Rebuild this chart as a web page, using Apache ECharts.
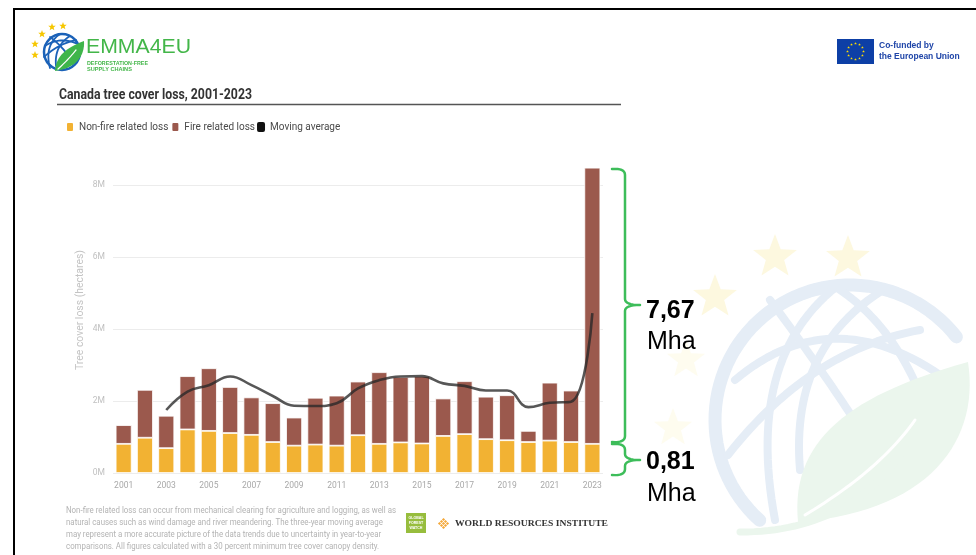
<!DOCTYPE html>
<html>
<head>
<meta charset="utf-8">
<script src="https://cdn.jsdelivr.net/npm/echarts@6/dist/echarts.min.js"></script>
<style>
  html, body { margin: 0; padding: 0; background: #ffffff; }
  #chart { width: 976px; height: 555px; }
</style>
</head>
<body>
<div id="chart"></div>
<script>
// Canada tree cover loss, 2001-2023 (million hectares)
var years = ['2001','2002','2003','2004','2005','2006','2007','2008','2009','2010','2011','2012',
             '2013','2014','2015','2016','2017','2018','2019','2020','2021','2022','2023'];
var nonFireLoss = [0.81,0.98,0.69,1.21,1.17,1.11,1.06,0.86,0.76,0.79,0.76,1.05,
                   0.81,0.85,0.82,1.03,1.08,0.94,0.91,0.86,0.90,0.86,0.81];
var fireLoss = [0.52,1.33,0.90,1.48,1.74,1.28,1.04,1.08,0.78,1.30,1.39,1.49,
                1.99,1.82,1.87,1.04,1.47,1.18,1.25,0.31,1.61,1.43,7.67];
var movingAverage = [null,null,1.75,2.26,2.44,2.68,2.44,2.14,1.87,1.86,1.94,2.35,
                     2.58,2.68,2.69,2.49,2.42,2.29,2.29,1.83,1.95,1.98,4.44];
var yTicks = [0, 2, 4, 6, 8];

var FONT = 'Roboto, "Noto Sans", sans-serif';
var ARIAL = '"Liberation Sans", Arial, sans-serif';

// ---------- small drawing helpers for the decorative artwork ----------
var measureCtx = document.createElement('canvas').getContext('2d');
function textWidth(text, size, weight, family) {
  measureCtx.font = (weight || 'normal') + ' ' + size + 'px ' + family;
  return measureCtx.measureText(text).width;
}
function quad(p0, p1, p2, n) {
  var out = [];
  for (var i = 0; i <= n; i++) {
    var t = i / n, u = 1 - t;
    out.push([u * u * p0[0] + 2 * u * t * p1[0] + t * t * p2[0],
              u * u * p0[1] + 2 * u * t * p1[1] + t * t * p2[1]]);
  }
  return out;
}
function cubic(p0, p1, p2, p3, n) {
  var out = [];
  for (var i = 0; i <= n; i++) {
    var t = i / n, u = 1 - t;
    out.push([u*u*u*p0[0] + 3*u*u*t*p1[0] + 3*u*t*t*p2[0] + t*t*t*p3[0],
              u*u*u*p0[1] + 3*u*u*t*p1[1] + 3*u*t*t*p2[1] + t*t*t*p3[1]]);
  }
  return out;
}
function arcPts(cx, cy, r, a0, a1, n) {
  var out = [];
  for (var i = 0; i <= n; i++) {
    var a = (a0 + (a1 - a0) * i / n) * Math.PI / 180;
    out.push([cx + r * Math.cos(a), cy + r * Math.sin(a)]);
  }
  return out;
}
function polyline(points, stroke, width, z) {
  return { type: 'polyline', z: z || 1, silent: true, shape: { points: points },
           style: { fill: null, stroke: stroke, lineWidth: width, lineCap: 'round', lineJoin: 'round' } };
}
function polygon(points, fill, z) {
  return { type: 'polygon', z: z || 1, silent: true, shape: { points: points }, style: { fill: fill } };
}
function starPoints(cx, cy, R, r) {
  var pts = [];
  for (var i = 0; i < 10; i++) {
    var a = -Math.PI / 2 + i * Math.PI / 5;
    var rad = i % 2 ? r : R;
    pts.push([cx + rad * Math.cos(a), cy + rad * Math.sin(a)]);
  }
  return pts;
}
function star(cx, cy, R, fill, z) {
  return polygon(starPoints(cx, cy, R, R * 0.42), fill, z);
}
// text element; opt.width squeezes/stretches the run horizontally to that width
function txt(x, y, text, opt) {
  opt = opt || {};
  var size = opt.size || 10, weight = opt.weight || 'normal', family = opt.family || FONT;
  var sx = opt.scaleX || 1;
  if (opt.width) sx = opt.width / textWidth(text, size, weight, family);
  return {
    type: 'text', x: x, y: y, z: opt.z || 10, silent: true,
    scaleX: sx, rotation: opt.rotation || 0,
    style: {
      text: text, fontSize: size, fontWeight: weight, fontFamily: family,
      fill: opt.color || '#333',
      textAlign: opt.align || 'left', align: opt.align || 'left',
      textVerticalAlign: 'middle', verticalAlign: 'middle'
    }
  };
}

var graphics = [];

// --- faint background emblem (globe, leaf, stars) ---
var wmBlue = '#e5edf6', wmGreen = '#ebf6ed', wmStar = '#fdf8df';
graphics.push(star(775, 257, 23, wmStar, 0));
graphics.push(star(848, 258, 23, wmStar, 0));
graphics.push(star(715, 297, 23, wmStar, 0));
graphics.push(star(686, 360, 20, '#fefcef', 0));
graphics.push(star(673, 428, 20, '#fefcef', 0));
graphics.push(polyline(arcPts(850, 420, 135, 132, 322, 60), wmBlue, 13, 0));
[
  [[836, 287], [745, 360], [775, 520]],
  [[880, 292], [790, 350], [800, 470]],
  [[735, 380], [830, 300], [940, 375]],
  [[728, 455], [810, 350], [920, 330]],
  [[770, 300], [830, 380], [880, 460]],
  [[840, 290], [900, 330], [930, 420]]
].forEach(function (c) { graphics.push(polyline(quad(c[0], c[1], c[2], 30), wmBlue, 8, 0)); });
graphics.push(polygon(cubic([798, 522], [790, 440], [850, 395], [968, 362], 30)
  .concat(cubic([968, 362], [980, 440], [930, 512], [798, 522], 30)), wmGreen, 0));
graphics.push(polyline(quad([740, 532], [850, 532], [905, 448], 30), wmGreen, 7, 0));
graphics.push(polyline(quad([805, 515], [880, 470], [915, 420], 30), '#ffffff', 3, 0));

// --- slide frame ---
graphics.push({ type: 'line', z: 20, silent: true, shape: { x1: 13, y1: 9, x2: 976, y2: 9 },
                style: { stroke: '#000', lineWidth: 2 } });
graphics.push({ type: 'line', z: 20, silent: true, shape: { x1: 14, y1: 8, x2: 14, y2: 555 },
                style: { stroke: '#000', lineWidth: 2 } });

// --- EMMA4EU logo ---
[[52, 27], [63, 26], [42, 34], [35, 44], [35, 55]].forEach(function (p) {
  graphics.push(star(p[0], p[1], 4, '#f6c700', 5));
});
graphics.push({ type: 'circle', z: 5, silent: true, shape: { cx: 62, cy: 52, r: 18 },
                style: { fill: null, stroke: '#1b62b8', lineWidth: 2.5 } });
[
  [[60, 34], [44, 45], [50, 68]],
  [[70, 36], [54, 46], [56, 66]],
  [[45, 46], [60, 36], [78, 44]],
  [[44, 57], [58, 44], [76, 40]],
  [[50, 37], [62, 46], [70, 58]]
].forEach(function (c) { graphics.push(polyline(quad(c[0], c[1], c[2], 16), '#1b62b8', 1.8, 5)); });
graphics.push(polygon(cubic([55, 71], [56, 56], [66, 48], [84, 41], 16)
  .concat(cubic([84, 41], [85, 56], [76, 68], [55, 71], 16)), '#3fb54b', 6));
graphics.push(polyline(quad([58, 69], [68, 60], [76, 50], 12), '#ffffff', 1.2, 7));
graphics.push(txt(86, 47.5, 'EMMA4EU', { size: 21, color: '#43b649', family: ARIAL, width: 105 }));
graphics.push(txt(87, 63, 'DEFORESTATION-FREE', { size: 5.6, weight: 'bold', color: '#43b649', family: ARIAL, width: 61 }));
graphics.push(txt(87, 69.5, 'SUPPLY CHAINS', { size: 5.6, weight: 'bold', color: '#43b649', family: ARIAL }));

// --- EU funding emblem ---
graphics.push({ type: 'rect', z: 5, silent: true, shape: { x: 837, y: 39, width: 37, height: 25 },
                style: { fill: '#0d3fa6' } });
for (var k = 0; k < 12; k++) {
  var ang = k * Math.PI / 6;
  graphics.push(star(855.5 + 8 * Math.cos(ang), 51.5 + 8 * Math.sin(ang), 1.4, '#ffdd00', 6));
}
graphics.push(txt(879, 46, 'Co-funded by', { size: 8.5, weight: 'bold', color: '#1f45a8', family: ARIAL }));
graphics.push(txt(879, 57, 'the European Union', { size: 8.5, weight: 'bold', color: '#1f45a8', family: ARIAL }));

// --- chart title + rule ---
graphics.push(txt(59, 95, 'Canada tree cover loss, 2001-2023', { size: 14.5, weight: 'bold', color: '#333', width: 193 }));
graphics.push({ type: 'line', z: 5, silent: true, shape: { x1: 57, y1: 104.5, x2: 621, y2: 104.5 },
                style: { stroke: '#555', lineWidth: 1.5 } });

// --- y axis title ---
graphics.push(txt(80, 310, 'Tree cover loss (hectares)', { size: 10.5, color: '#c4c4c4', align: 'center',
                                                             rotation: Math.PI / 2, width: 120 }));

// --- footnote ---
var note = [
  'Non-fire related loss can occur from mechanical clearing for agriculture and logging, as well as',
  'natural causes such as wind damage and river meandering. The three-year moving average',
  'may represent a more accurate picture of the data trends due to uncertainty in year-to-year',
  'comparisons. All figures calculated with a 30 percent minimum tree cover canopy density.'
];
var noteScale = 330 / textWidth(note[0], 9, 'normal', FONT);
note.forEach(function (line, i) {
  graphics.push(txt(66, 511 + i * 12, line, { size: 9, color: '#b3b3b3', scaleX: noteScale }));
});

// --- GFW / WRI marks ---
graphics.push({ type: 'rect', z: 5, silent: true, shape: { x: 406, y: 513, width: 20, height: 20 },
                style: { fill: '#97bd3d' } });
['GLOBAL', 'FOREST', 'WATCH'].forEach(function (w, i) {
  graphics.push(txt(416, 518 + i * 5, w, { size: 3.6, weight: 'bold', color: '#ffffff', align: 'center', family: ARIAL }));
});
(function () {
  var cx = 443.5, cy = 523.5;
  for (var a = -3; a <= 3; a++) {
    for (var b = -3; b <= 3; b++) {
      if (Math.abs(a) + Math.abs(b) > 3 || (a + b) % 2 !== 0) continue;
      graphics.push(polygon([[cx + a * 2, cy + b * 2 - 1.6], [cx + a * 2 + 1.6, cy + b * 2],
                             [cx + a * 2, cy + b * 2 + 1.6], [cx + a * 2 - 1.6, cy + b * 2]], '#f4a83a', 5));
    }
  }
})();
graphics.push(txt(455, 523.5, 'WORLD RESOURCES INSTITUTE', { size: 8.6, weight: 'bold', color: '#333',
  family: '"Liberation Serif", "DejaVu Serif", serif', width: 153 }));

// --- brackets and value call-outs for 2023 ---
var bracketColor = '#3dbd5a';
function bracket(x0, xs, xt, yTop, yMid, yBot) {
  var r = 6;
  return [].concat(
    quad([x0, yTop], [xs, yTop - 1], [xs, yTop + r], 8),
    [[xs, yMid - r]],
    quad([xs, yMid - r], [xs, yMid], [xt, yMid], 8),
    quad([xt, yMid], [xs, yMid], [xs, yMid + r], 8),
    [[xs, yBot - r]],
    quad([xs, yBot - r], [xs, yBot + 1], [x0, yBot], 8)
  );
}
graphics.push(polyline(bracket(612, 625, 640, 169, 305, 442), bracketColor, 2.5, 8));
graphics.push(polyline(bracket(612, 625, 640, 444, 460, 475), bracketColor, 2.5, 8));
graphics.push(txt(646, 311, '7,67', { size: 25, weight: 'bold', color: '#000', family: ARIAL }));
graphics.push(txt(647, 342, 'Mha', { size: 25, color: '#000', family: ARIAL }));
graphics.push(txt(646, 462, '0,81', { size: 25, weight: 'bold', color: '#000', family: ARIAL }));
graphics.push(txt(647, 494, 'Mha', { size: 25, color: '#000', family: ARIAL }));

var chart = echarts.init(document.getElementById('chart'), null, { renderer: 'canvas' });
chart.setOption({
  backgroundColor: '#ffffff',
  animation: false,
  textStyle: { fontFamily: FONT },
  legend: {
    left: 60, top: 116, padding: 5,
    icon: 'roundRect', itemWidth: 8, itemHeight: 10, itemGap: 2,
    textStyle: { fontSize: 10, color: '#4a4a4a', fontFamily: FONT },
    data: ['Non-fire related loss', 'Fire related loss', 'Moving average']
  },
  grid: { left: 113, right: 373, top: 185, bottom: 82, containLabel: false },
  xAxis: {
    type: 'category', data: years,
    axisLine: { show: false }, axisTick: { show: false },
    axisLabel: { interval: 1, color: '#a8a8a8', fontSize: 8.5, margin: 8, fontFamily: FONT }
  },
  yAxis: {
    type: 'value', min: yTicks[0], max: yTicks[yTicks.length - 1], interval: yTicks[1] - yTicks[0],
    axisLine: { show: false }, axisTick: { show: false },
    axisLabel: { color: '#c0c0c0', fontSize: 8.5, margin: 8, fontFamily: FONT,
                 formatter: function (v) { return v + 'M'; } },
    splitLine: { lineStyle: { color: '#ececec', width: 1 } }
  },
  graphic: graphics,
  series: [
    { name: 'Non-fire related loss', type: 'bar', stack: 'loss', data: nonFireLoss, barWidth: '75%',
      clip: false, itemStyle: { color: '#f2b233', borderColor: '#ffffff', borderWidth: 0.8 } },
    { name: 'Fire related loss', type: 'bar', stack: 'loss', data: fireLoss, barWidth: '75%',
      clip: false, itemStyle: { color: '#9b594d', borderColor: '#ffffff', borderWidth: 0.8 } },
    { name: 'Moving average', type: 'line', data: movingAverage, smooth: 0.45, showSymbol: false,
      clip: false, z: 5,
      itemStyle: { color: '#111111' },
      lineStyle: { color: 'rgba(40,40,40,0.78)', width: 2.6 } }
  ]
});
</script>
</body>
</html>
